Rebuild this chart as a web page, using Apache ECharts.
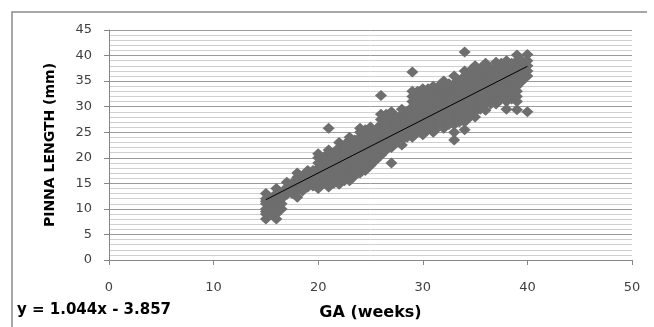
<!DOCTYPE html>
<html lang="en">
<head>
  <meta charset="UTF-8">
  <title>Pinna length vs GA</title>
  <script src="https://cdn.jsdelivr.net/npm/echarts@6/dist/echarts.min.js"></script>
  <style>
    body { margin: 0; background: #fff; }
  </style>
</head>
<body>
    <div id="main" style="width: 654px;height:327px;"></div>
    <script type="text/javascript">
        // gestational age in weeks, one column of points per week
        var weeks = [15, 16, 17, 18, 19, 20, 21, 22, 23, 24, 25, 26, 27,
                     28, 29, 30, 31, 32, 33, 34, 35, 36, 37, 38, 39, 40];
        // pinna length (mm), per week
        var pinnaByWeek = [
            [8, 9, 9.5, 10, 11, 11.5, 12, 13],
            [8, 9, 10, 10.5, 11, 12, 13, 14],
            [12.8, 13.5, 14.2, 15.2],
            [12.3, 13.5, 14.5, 15.5, 16.2, 17],
            [14.3, 15, 16, 17, 17.5],
            [14, 15, 16, 17, 18, 19, 20, 20.8],
            [14.3, 15.2, 16, 17, 18, 19, 20, 21, 21.5, 25.8],
            [14.8, 16, 17, 18, 19, 20, 21, 22, 23],
            [15.5, 16.5, 17.5, 18.5, 19.5, 20.5, 21.5, 22.5, 23.5, 24],
            [17, 18, 19, 20, 21, 22, 23, 24, 25, 25.8],
            [18.5, 19.5, 20.5, 21.5, 22.5, 23.5, 24.5, 25.5, 26],
            [20.5, 21.5, 22.5, 23.5, 24.5, 25.5, 26.5, 27.5, 28.5, 32.2],
            [19, 22, 23, 24, 25, 26, 27, 28, 29],
            [22.5, 23.5, 24.5, 25.5, 26.5, 27.5, 28.5, 29.5],
            [24, 25, 26, 27, 28, 29, 30, 31, 32, 33, 36.8],
            [24.5, 25.5, 26.5, 27.5, 28.5, 29.5, 30.5, 31.5, 32.5, 33.5],
            [25, 26, 27, 28, 29, 30, 31, 32, 33, 34],
            [25.8, 27, 28, 29, 30, 31, 32, 33, 34, 35],
            [23.5, 25, 26.5, 27.5, 28.5, 29.5, 30.5, 31.5, 32.5, 33.5, 34.5, 36],
            [25.5, 27, 28, 29, 30, 31, 32, 33, 34, 35, 36, 37, 40.7],
            [28, 29, 30, 31, 32, 33, 34, 35, 36, 37, 38],
            [29.3, 30.5, 31.5, 32.5, 33.5, 34.5, 35.5, 36.5, 37.5, 38.5],
            [30.5, 31.5, 32.5, 33.5, 34.5, 35.5, 36.5, 37.5, 38.7],
            [29.5, 31, 32, 33, 34, 35, 36, 37, 38, 39],
            [29.4, 31, 32, 33, 34, 35, 36, 37, 38, 39, 40.1],
            [29, 36, 37, 38, 39, 40.2]
        ];
        // babies measured between whole weeks (the solid part of the cloud)
        var halfWeeks = [15.5, 16.5, 17.5, 18.5, 19.5, 20.5, 21.5, 22.5, 23.5, 24.5, 25.5, 26.5,
                         27.5, 28.5, 29.5, 30.5, 31.5, 32.5, 33.5, 34.5, 35.5, 36.5, 37.5, 38.5, 39.5];
        var pinnaByHalfWeek = [
            [9, 10, 11, 12],
            [10, 11, 12, 13],
            [13, 14, 15],
            [13.5, 14.5, 15.5, 16.5],
            [14.5, 15.5, 16.5, 17.5],
            [15, 16, 17, 18, 19, 20],
            [15, 16, 17, 18, 19, 20, 21],
            [15.5, 16.5, 17.5, 18.5, 19.5, 20.5, 21.5, 22.5],
            [16.5, 17.5, 18.5, 19.5, 20.5, 21.5, 22.5, 23.5],
            [17.5, 18.5, 19.5, 20.5, 21.5, 22.5, 23.5, 24.5, 25.5],
            [19.5, 20.5, 21.5, 22.5, 23.5, 24.5, 25.5],
            [21.5, 22.5, 23.5, 24.5, 25.5, 26.5, 27.5, 28.5],
            [23, 24, 25, 26, 27, 28],
            [24, 25, 26, 27, 28, 29],
            [25, 26, 27, 28, 29, 30, 31, 32, 33],
            [25.5, 26.5, 27.5, 28.5, 29.5, 30.5, 31.5, 32.5, 33.5],
            [26, 27, 28, 29, 30, 31, 32, 33, 34],
            [26.5, 27.5, 28.5, 29.5, 30.5, 31.5, 32.5, 33.5, 34.5],
            [27, 28, 29, 30, 31, 32, 33, 34, 35],
            [28, 29, 30, 31, 32, 33, 34, 35, 36, 37],
            [29.5, 30.5, 31.5, 32.5, 33.5, 34.5, 35.5, 36.5, 37.5],
            [30.5, 31.5, 32.5, 33.5, 34.5, 35.5, 36.5, 37.5],
            [31.5, 32.5, 33.5, 34.5, 35.5, 36.5, 37.5, 38.5],
            [31.5, 32.5, 33.5, 34.5, 35.5, 36.5, 37.5, 38.5],
            [35, 36, 37, 38, 39]
        ];
        // linear trend end points (y = 1.044x - 3.857)
        var trendX = [15, 40];
        var trendY = [11.8, 37.9];

        var points = [];
        function addColumns(xs, ys) {
            for (var i = 0; i < xs.length; i++) {
                for (var j = 0; j < ys[i].length; j++) {
                    points.push([xs[i], ys[i][j]]);
                }
            }
        }
        addColumns(weeks, pinnaByWeek);
        addColumns(halfWeeks, pinnaByHalfWeek);

        var trend = [];
        for (var k = 0; k < trendX.length; k++) {
            trend.push([trendX[k], trendY[k]]);
        }

        var myChart = echarts.init(document.getElementById('main'));

        var option = {
            animation: false,
            grid: { left: 109, right: 22, top: 30, bottom: 67 },
            graphic: [
                {
                    type: 'polyline',
                    shape: { points: [[12, 330], [12, 12], [647, 12]] },
                    style: { stroke: '#8a8a8a', lineWidth: 1.5, fill: null }
                },
                {
                    type: 'text',
                    left: 17, top: 303,
                    style: {
                        text: 'y = 1.044x - 3.857',
                        font: 'bold 15px "DejaVu Sans"',
                        fill: '#000'
                    }
                }
            ],
            xAxis: {
                type: 'value',
                min: 0, max: 50, interval: 10,
                name: 'GA (weeks)',
                nameLocation: 'middle',
                nameGap: 45,
                nameTextStyle: { fontFamily: 'DejaVu Sans', fontWeight: 'bold', fontSize: 16, color: '#000' },
                axisLine: { show: true, lineStyle: { color: '#868686' } },
                axisTick: { show: true, length: 5, lineStyle: { color: '#868686' } },
                axisLabel: { margin: 21, fontFamily: 'DejaVu Sans', fontSize: 13, color: '#404040' },
                splitLine: { show: false }
            },
            yAxis: {
                type: 'value',
                min: 0, max: 45, interval: 5,
                name: 'PINNA LENGTH (mm)',
                nameLocation: 'middle',
                nameGap: 52,
                nameTextStyle: { fontFamily: 'DejaVu Sans', fontWeight: 'bold', fontSize: 14, color: '#000' },
                axisLine: { show: true, lineStyle: { color: '#868686' } },
                axisTick: { show: true, length: 5, lineStyle: { color: '#868686' } },
                axisLabel: { margin: 17, fontFamily: 'DejaVu Sans', fontSize: 13, color: '#404040' },
                splitLine: { show: true, lineStyle: { color: '#9a9a9a' } },
                minorTick: { show: false, splitNumber: 5 },
                minorSplitLine: { show: true, lineStyle: { color: '#cfcfcf' } }
            },
            series: [
                {
                    type: 'scatter',
                    symbol: 'diamond',
                    symbolSize: [12, 11],
                    itemStyle: { color: '#6e6e6e', opacity: 1 },
                    data: points
                },
                {
                    type: 'line',
                    symbol: 'none',
                    lineStyle: { color: '#000', width: 1 },
                    data: trend
                }
            ]
        };

        myChart.setOption(option);
    </script>
</body>
</html>
